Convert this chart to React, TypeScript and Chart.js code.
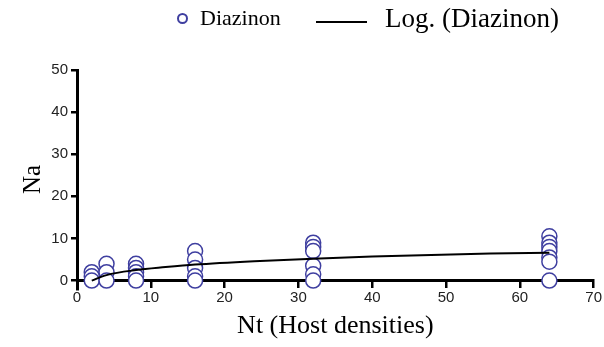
import React, { useEffect, useRef } from "react";
import { Chart, registerables } from "chart.js";

Chart.register(...registerables);

// Host densities (x) for each group of observations
const xGroups = [2, 4, 8, 16, 32, 64];
const naAt2 = [2, 1, 0];
const naAt4 = [4, 2, 0];
const naAt8 = [4, 3, 2, 1, 0];
const naAt16 = [7, 5, 3, 1, 0];
const naAt32 = [9, 8, 7, 3.5, 1.5, 0];
const naAt64 = [10.5, 9, 8, 7, 5.5, 4.5, 0];
const naGroups = [naAt2, naAt4, naAt8, naAt16, naAt32, naAt64];

// Logarithmic trend line
const trendX = [2, 4, 8, 12, 16, 24, 32, 40, 48, 56, 64];
const trendY = [0, 1.3, 2.5, 3.2, 3.8, 4.6, 5.2, 5.7, 6.1, 6.4, 6.6];

const xTicks = [0, 10, 20, 30, 40, 50, 60, 70];
const yTicks = [0, 10, 20, 30, 40, 50];

const seriesName = "Diazinon";
const trendName = "Log. (Diazinon)";
const xTitle = "Nt (Host densities)";
const yTitle = "Na";

const pointColor = "#3f3fa0";

export default function App() {
  const ref = useRef<HTMLCanvasElement | null>(null);

  useEffect(() => {
    if (!ref.current) return;
    const points: { x: number; y: number }[] = [];
    xGroups.forEach((x, i) => naGroups[i].forEach((y) => points.push({ x, y })));
    const trend = trendX.map((x, i) => ({ x, y: trendY[i] }));

    const chart = new Chart(ref.current, {
      type: "scatter",
      data: {
        datasets: [
          {
            label: seriesName,
            data: points,
            pointStyle: "circle",
            pointRadius: 7.5,
            pointBorderWidth: 1.5,
            borderColor: pointColor,
            backgroundColor: "rgba(255,255,255,1)",
            pointBackgroundColor: "rgba(255,255,255,1)",
            pointBorderColor: pointColor,
            showLine: false,
            order: 2,
          },
          {
            label: trendName,
            type: "line",
            data: trend,
            borderColor: "#000",
            borderWidth: 2,
            pointRadius: 0,
            fill: false,
            cubicInterpolationMode: "monotone",
            order: 1,
          } as any,
        ],
      },
      options: {
        responsive: false,
        animation: false,
        events: [],
        layout: { padding: { top: 70, right: 8, bottom: 58, left: 0 } },
        plugins: { legend: { display: false }, tooltip: { enabled: false } },
        scales: {
          x: {
            type: "linear",
            position: { y: 0 } as any,
            min: 0,
            max: 70,
            afterBuildTicks: (s: any) => {
              s.ticks = xTicks.map((v) => ({ value: v }));
            },
            ticks: {
              color: "#222",
              font: { family: "Liberation Sans", size: 15 },
              padding: 2,
              maxRotation: 0,
            },
            grid: {
              display: true,
              drawOnChartArea: false,
              drawTicks: true,
              tickLength: 6,
              color: "#000",
              lineWidth: 2.5,
            },
            border: { display: true, color: "#000", width: 3 },
            title: {
              display: true,
              text: xTitle,
              color: "#000",
              font: { family: "Liberation Serif", size: 26, weight: "normal" },
              padding: { top: 2, bottom: 0 },
            },
          },
          y: {
            type: "linear",
            position: "left",
            min: -2,
            max: 50,
            afterBuildTicks: (s: any) => {
              s.ticks = yTicks.map((v) => ({ value: v }));
            },
            afterFit: (s: any) => {
              s.width = 77;
            },
            ticks: {
              color: "#222",
              font: { family: "Liberation Sans", size: 15 },
              padding: 3,
            },
            grid: {
              display: true,
              drawOnChartArea: false,
              drawTicks: true,
              tickLength: 6,
              color: "#000",
              lineWidth: 2.5,
            },
            border: { display: true, color: "#000", width: 3 },
            title: {
              display: true,
              text: yTitle,
              color: "#000",
              font: { family: "Liberation Serif", size: 25, weight: "normal" },
              padding: { top: 18, bottom: 0 },
            },
          },
        },
      },
    });
    return () => chart.destroy();
  }, []);

  return (
    <div style={{ position: "fixed", left: 0, top: 0, width: 604, height: 347, background: "#fff" }}>
      <canvas ref={ref} width={604} height={347} style={{ display: "block", width: 604, height: 347 }} />
      <div
        style={{
          position: "absolute",
          left: 177,
          top: 13,
          width: 11,
          height: 11,
          boxSizing: "border-box",
          border: `2.5px solid ${pointColor}`,
          borderRadius: "50%",
        }}
      />
      <span
        style={{
          position: "absolute",
          left: 200,
          top: 5,
          fontFamily: "Liberation Serif",
          fontSize: 22,
          lineHeight: "26px",
          color: "#000",
          whiteSpace: "nowrap",
        }}
      >
        {seriesName}
      </span>
      <div style={{ position: "absolute", left: 316, top: 21, width: 51, height: 2, background: "#000" }} />
      <span
        style={{
          position: "absolute",
          left: 385,
          top: 3,
          fontFamily: "Liberation Serif",
          fontSize: 27,
          lineHeight: "30px",
          color: "#000",
          whiteSpace: "nowrap",
        }}
      >
        {trendName}
      </span>
    </div>
  );
}
